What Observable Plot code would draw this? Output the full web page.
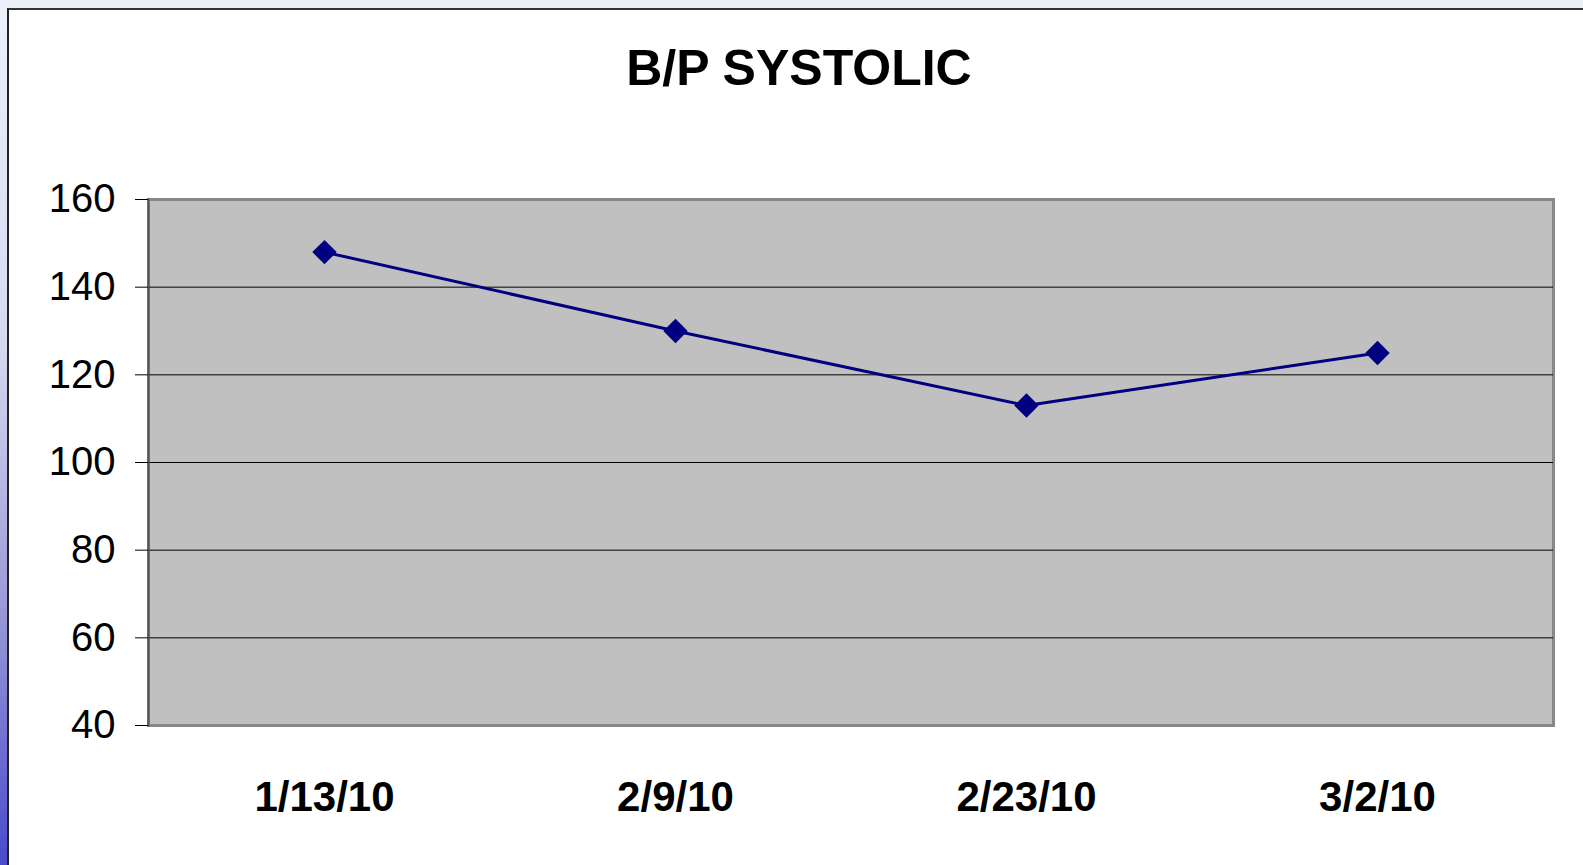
<!DOCTYPE html>
<html>
<head>
<meta charset="utf-8">
<script src="https://cdn.jsdelivr.net/npm/d3@7"></script>
<script src="https://cdn.jsdelivr.net/npm/@observablehq/plot@0.6"></script>
<style>
  html, body { margin: 0; padding: 0; }
  body { width: 1583px; height: 865px; position: relative; overflow: hidden; background: #eceef8; font-family: "Liberation Sans", Arial, sans-serif; }
  #strip { position: absolute; left: 0; top: 0; width: 7px; height: 865px;
    background: linear-gradient(to bottom, #eef0fa 0%, #d6d8f0 40%, #9a9ad8 70%, #4a4acc 100%); }
  #panel { position: absolute; left: 7px; top: 8px; right: 0; bottom: 0; background: #fff;
    border-top: 2px solid #333; border-left: 2px solid #222; }
  #title { position: absolute; left: 0; width: 1598px; top: 43px; text-align: center;
    font: bold 50px/50px "Liberation Sans", Arial, sans-serif; color: #000; }
  #chart { position: absolute; left: 0; top: 0; }
</style>
</head>
<body>
<div id="strip"></div>
<div id="panel"></div>
<div id="title">B/P SYSTOLIC</div>
<div id="chart"></div>
<script>
const dates = ["1/13/10", "2/9/10", "2/23/10", "3/2/10"];
const systolic = [148, 130, 113, 125];
const yTicks = [40, 60, 80, 100, 120, 140, 160];
const gridTicks = [60, 80, 100, 120, 140];

const data = dates.map((d, i) => ({date: d, value: systolic[i]}));

const chart = Plot.plot({
  width: 1583,
  height: 865,
  marginLeft: 148,
  marginRight: 30,
  marginTop: 199,
  marginBottom: 140,
  style: {background: "transparent", fontFamily: "'Liberation Sans', Arial, sans-serif", color: "#000"},
  x: {type: "point", domain: dates, padding: 0.5, label: null},
  y: {domain: [40, 160], label: null},
  marks: [
    Plot.frame({fill: "#c0c0c0", stroke: "#888888", strokeWidth: 3}),
    Plot.gridY(gridTicks, {stroke: "#000", strokeOpacity: 1, strokeWidth: 1}),
    Plot.frame({anchor: "left", stroke: "#555", strokeWidth: 2}),
    Plot.axisY(yTicks, {tickSize: 13, tickPadding: 20, fontSize: 40, stroke: "#000", label: null}),
    Plot.axisX({tickSize: 0, tickPadding: 56, fontSize: 42, fontWeight: "bold", label: null}),
    Plot.line(data, {x: "date", y: "value", stroke: "#000080", strokeWidth: 3}),
    Plot.dot(data, {x: "date", y: "value", symbol: "diamond2", r: 11, fill: "#000080", stroke: "none"})
  ]
});
document.getElementById("chart").appendChild(chart);
</script>
</body>
</html>
